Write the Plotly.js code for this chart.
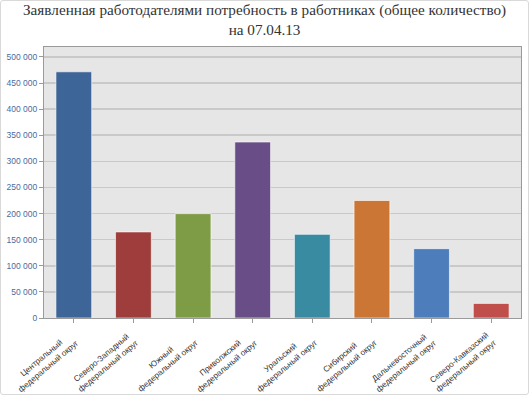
<!DOCTYPE html>
<html>
<head>
<meta charset="utf-8">
<script src="https://cdn.plot.ly/plotly-3.0.1.min.js"></script>
<style>
html,body{margin:0;padding:0;background:#fff;}
#chart{width:529px;height:395px;box-sizing:border-box;border:1px solid #d9d9d9;border-radius:3px;}
</style>
</head>
<body>
<div id="chart"></div>
<script>
var categories = [
  "Центральный<br>федеральный округ",
  "Северо-Западный<br>федеральный округ",
  "Южный<br>федеральный округ",
  "Приволжский<br>федеральный округ",
  "Уральский<br>федеральный округ",
  "Сибирский<br>федеральный округ",
  "Дальневосточный<br>федеральный округ",
  "Северо-Кавказский<br>федеральный округ"
];
var values = [471500, 164800, 199800, 337000, 160200, 225000, 132800, 28000];
var colors = ["#3e6597", "#9e3d3b", "#7e9b45", "#684d86", "#388ba0", "#cc7636", "#4d7ebb", "#c04f4c"];
var titleText = "Заявленная работодателями потребность в работниках (общее количество)<br>на 07.04.13";

var trace = {
  type: "bar",
  x: categories,
  y: values,
  width: 0.6,
  marker: {color: colors, line: {color: "rgba(255,255,255,0.6)", width: 1}},
  hoverinfo: "skip"
};

var annotations = [{
  text: titleText,
  xref: "paper", yref: "paper", x: 0.463, y: 1,
  xanchor: "center", yanchor: "bottom", yshift: 7,
  showarrow: false, align: "center",
  font: {family: "Liberation Serif, serif", size: 15.2, color: "#333333"}
}];
categories.forEach(function (c) {
  annotations.push({
    text: c, x: c, xref: "x", y: 0, yref: "paper",
    xanchor: "right", yanchor: "top", xshift: 10, yshift: -9,
    textangle: -40, showarrow: false, align: "center",
    font: {family: "Liberation Sans, Arial", size: 8.2, color: "#333333"}
  });
});

var layout = {
  width: 527, height: 393,
  margin: {l: 43, r: 7, t: 46, b: 76},
  paper_bgcolor: "rgba(0,0,0,0)",
  plot_bgcolor: "#e6e6e6",
  separators: ", ",
  xaxis: {
    range: [-0.5, categories.length - 0.5],
    autorange: false,
    showticklabels: false,
    ticks: "outside", ticklen: 4, tickcolor: "#9a9a9a",
    showline: true, linecolor: "#9a9a9a", linewidth: 1, mirror: true,
    showgrid: false, fixedrange: true
  },
  yaxis: {
    range: [0, 519000],
    autorange: false,
    dtick: 50000,
    tickformat: ",d",
    tickfont: {family: "Liberation Sans, Arial", size: 8.5, color: "#4a6b9e"},
    ticks: "outside", ticklen: 4, tickcolor: "#9a9a9a",
    showline: true, linecolor: "#9a9a9a", linewidth: 1, mirror: true,
    showgrid: true, gridcolor: "#c9c9c9", gridwidth: 1.5,
    zeroline: false, fixedrange: true
  },
  annotations: annotations,
  showlegend: false
};

Plotly.newPlot("chart", [trace], layout, {displayModeBar: false, staticPlot: true});
</script>
</body>
</html>
